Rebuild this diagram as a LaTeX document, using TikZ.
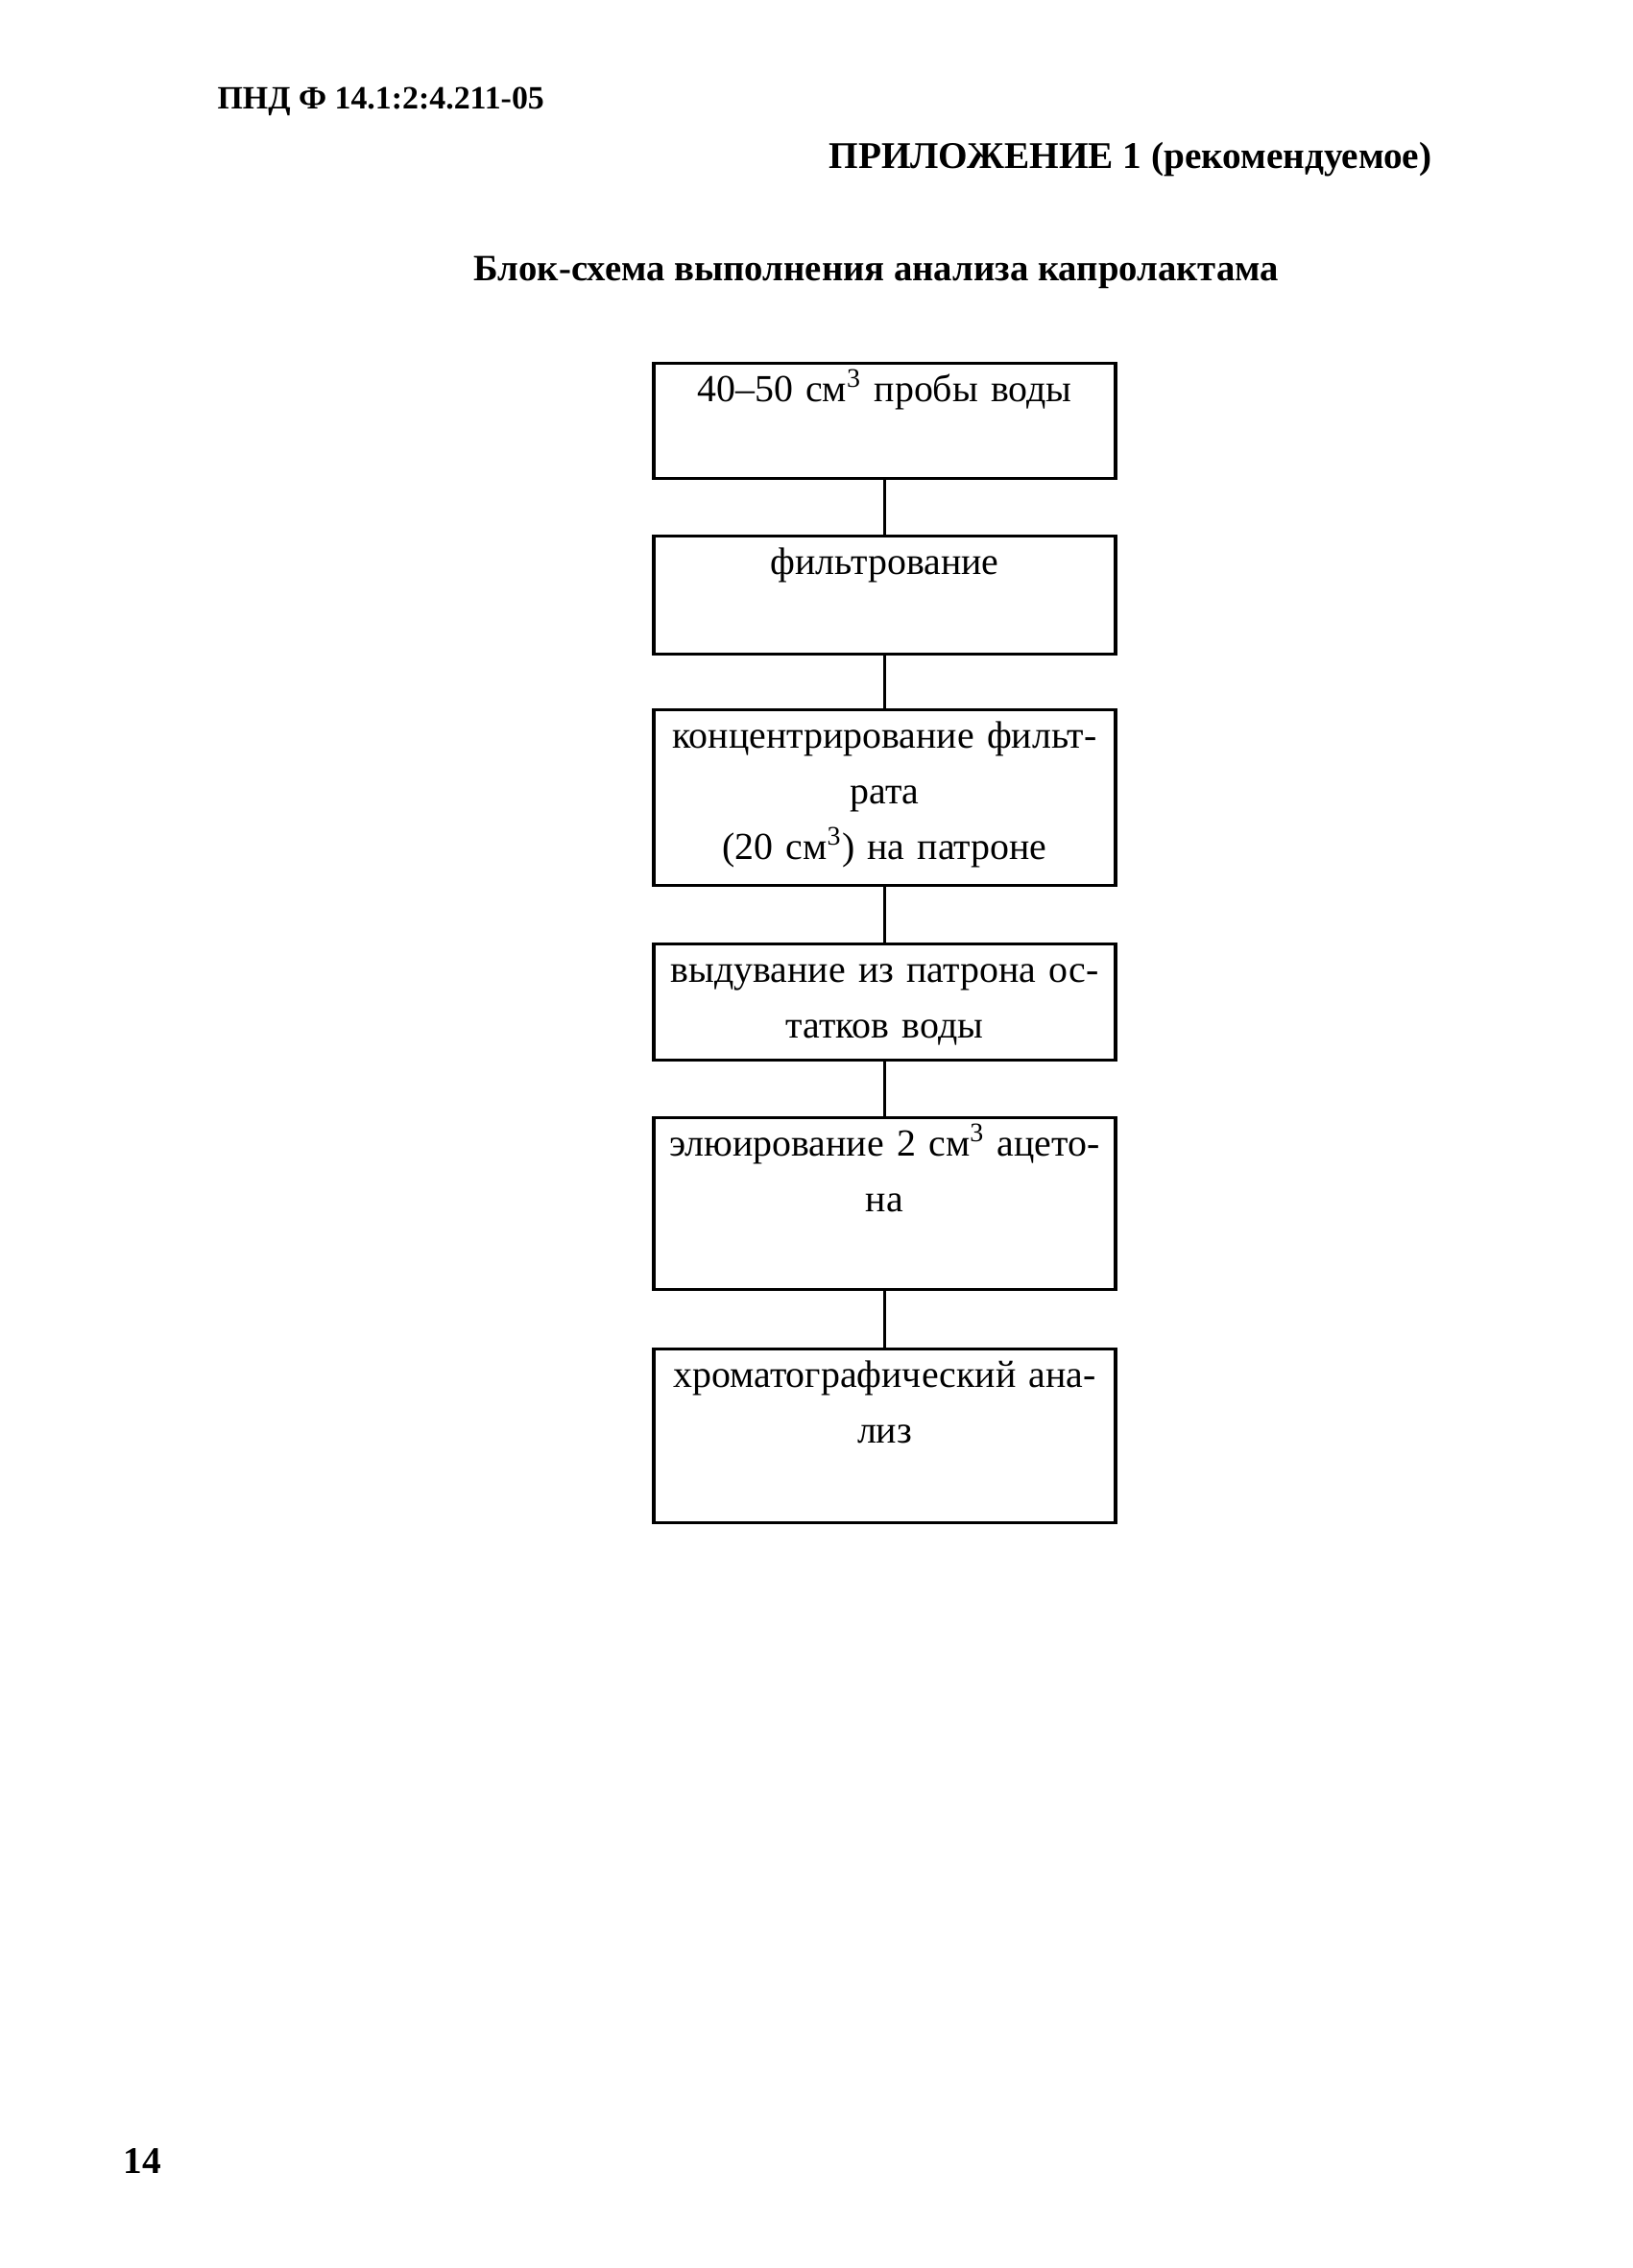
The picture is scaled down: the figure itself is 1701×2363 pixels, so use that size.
\documentclass[tikz,border=0pt]{standalone}
\usepackage{fontspec}
\setmainfont{Liberation Serif}
\usetikzlibrary{positioning}

\begin{document}
\begin{tikzpicture}[
  x=0.3513pt,
  y=-0.3513pt,
  stage/.style={
    draw=black,
    line width=1.1pt,
    minimum width=169pt,
    inner sep=0pt,
    anchor=north
  },
  stagetext/.style={
    inner sep=0pt,
    align=center,
    text width=168pt,
    font=\fontsize{14}{20.4}\selectfont,
    execute at begin node={\rule{0pt}{12pt}}
  },
  link/.style={draw=black, line width=1.1pt},
  heading/.style={inner sep=0pt, font=\bfseries\fontsize{13.8}{17}\selectfont}
]
\path[use as bounding box, fill=white] (0,0) rectangle (1701,2363);

% Page header
\node[heading, anchor=west, font=\bfseries\fontsize{11.9}{14}\selectfont] (code) at (226,106) {ПНД Ф 14.1:2:4.211-05};
\node[heading, anchor=east] (annex) at (1492,166) {ПРИЛОЖЕНИЕ 1 (рекомендуемое)};
\node[heading, font=\bfseries\fontsize{13.6}{17}\selectfont] (title) at (913,284) {Блок-схема выполнения анализа капролактама};

% Analysis steps
\node[stage, minimum height=42.2pt] (sample) at (921.5,377) {};
\node[stage, minimum height=43.2pt] (filter) at (921.5,557) {};
\node[stage, minimum height=64.3pt] (concentrate) at (921.5,738) {};
\node[stage, minimum height=42.5pt] (blow) at (921.5,982) {};
\node[stage, minimum height=62.9pt] (elute) at (921.5,1163) {};
\node[stage, minimum height=63.6pt] (chrom) at (921.5,1404) {};

\node[stagetext, below=2.2pt of sample.north] (sampletext) {40–50 см\textsuperscript{3} пробы воды};
\node[stagetext, below=2.2pt of filter.north] (filtertext) {фильтрование};
\node[stagetext, below=2.2pt of concentrate.north] (concentratetext) {концентрирование фильт-\\рата\\(20 см\textsuperscript{3}) на патроне};
\node[stagetext, below=2.2pt of blow.north] (blowtext) {выдувание из патрона ос-\\татков воды};
\node[stagetext, below=2.2pt of elute.north] (elutetext) {элюирование 2 см\textsuperscript{3} ацето-\\на};
\node[stagetext, below=2.2pt of chrom.north] (chromtext) {хроматографический ана-\\лиз};

\draw[link] (sample) -- (filter);
\draw[link] (filter) -- (concentrate);
\draw[link] (concentrate) -- (blow);
\draw[link] (blow) -- (elute);
\draw[link] (elute) -- (chrom);

% Page number
\node[heading, anchor=west] (page) at (128,2252) {14};

\end{tikzpicture}
\end{document}
